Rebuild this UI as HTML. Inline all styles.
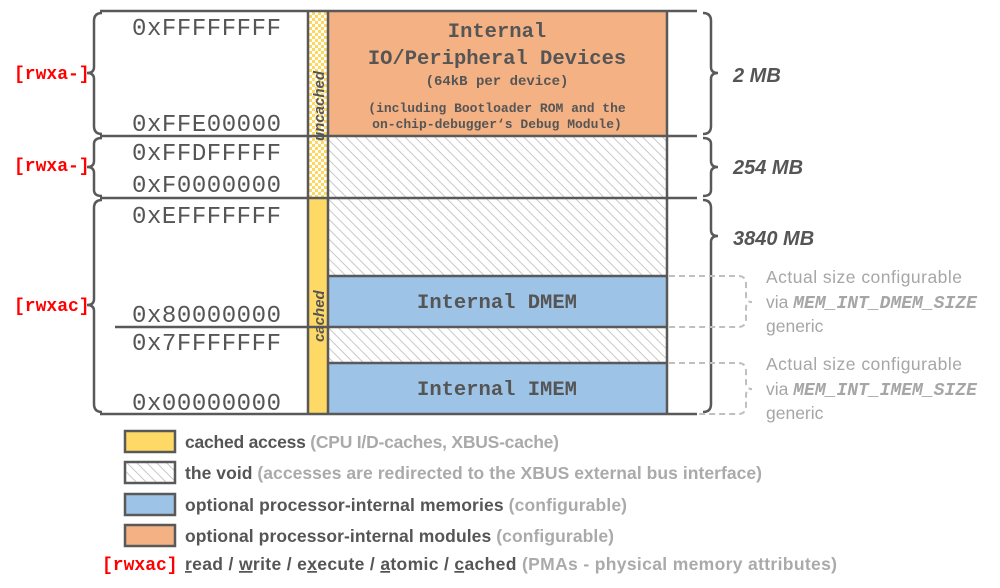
<!DOCTYPE html>
<html><head><meta charset="utf-8"><style>
html,body{margin:0;padding:0;background:#fff;}
svg{display:block}
.m{font-family:"Liberation Mono",monospace;fill:#555;}
.s{font-family:"Liberation Sans",sans-serif;}
</style></head><body>
<svg width="1000" height="588" viewBox="0 0 1000 588" xmlns="http://www.w3.org/2000/svg">
<defs>
<pattern id="h" width="7" height="7" patternUnits="userSpaceOnUse" patternTransform="rotate(-45)">
<rect width="7" height="7" fill="#fff"/><line x1="0" y1="0" x2="0" y2="7" stroke="#c8c8c8" stroke-width="2"/>
</pattern>
<pattern id="c" width="6" height="6" patternUnits="userSpaceOnUse">
<rect width="6" height="6" fill="#fff"/><rect width="3" height="3" fill="#ffd75e"/><rect x="3" y="3" width="3" height="3" fill="#ffd75e"/>
</pattern>
</defs>
<rect x="308" y="11" width="20" height="187" fill="url(#c)"/>
<rect x="308" y="198" width="20" height="216" fill="#ffd966"/>
<rect x="328" y="11" width="339" height="125" fill="#f4b183"/>
<rect x="328" y="136" width="339" height="140" fill="url(#h)"/>
<rect x="328" y="276" width="339" height="51" fill="#9dc3e6"/>
<rect x="328" y="327" width="339" height="36" fill="url(#h)"/>
<rect x="328" y="363" width="339" height="51" fill="#9dc3e6"/>
<g stroke="#595959" stroke-width="2.5" fill="none">
<line x1="308" y1="11" x2="308" y2="414"/><line x1="328" y1="11" x2="328" y2="414"/><line x1="667" y1="11" x2="667" y2="414"/>
<line x1="100" y1="11" x2="697" y2="11"/>
<line x1="100" y1="136" x2="697" y2="136"/>
<line x1="100" y1="198" x2="697" y2="198"/>
<line x1="328" y1="276" x2="667" y2="276"/>
<line x1="328" y1="363" x2="667" y2="363"/>
<line x1="100" y1="414" x2="697" y2="414"/>
<line x1="328" y1="327" x2="115" y2="327"/>
<line x1="328" y1="327" x2="667" y2="327"/>
<path d="M102,13 q-8,0 -8,8 L94,67 q0,6 -7,6 q7,0 7,6 L94,126 q0,8 8,8"/>
<path d="M102,138 q-8,0 -8,6 L94,161 q0,6 -7,6 q7,0 7,6 L94,190 q0,6 8,6"/>
<path d="M102,200 q-8,0 -8,8 L94,299 q0,6 -7,6 q7,0 7,6 L94,404 q0,8 8,8"/>
<path d="M703,13 q8,0 8,8 L711,67 q0,6 7,6 q-7,0 -7,6 L711,126 q0,8 -8,8"/>
<path d="M703,138 q8,0 8,6 L711,161 q0,6 7,6 q-7,0 -7,6 L711,190 q0,6 -8,6"/>
<path d="M703,200 q8,0 8,8 L711,230 q0,6 7,6 q-7,0 -7,6 L711,404 q0,8 -8,8"/>
</g>
<g stroke="#bfbfbf" stroke-width="2" fill="none">
<path d="M669,276 L738,276 q8,0 8,8 L746,296 q0,6 6,6 q-6,0 -6,6 L746,319 q0,8 -8,8 L669,327" stroke-dasharray="6,4"/>
<path d="M669,363 L738,363 q8,0 8,8 L746,383 q0,6 6,6 q-6,0 -6,6 L746,406 q0,8 -8,8 L697,414" stroke-dasharray="6,4"/>
</g>
<g class="m" font-size="24">
<text x="132" y="35" textLength="149">0xFFFFFFFF</text>
<text x="132" y="131" textLength="149">0xFFE00000</text>
<text x="132" y="160" textLength="149">0xFFDFFFFF</text>
<text x="132" y="192" textLength="149">0xF0000000</text>
<text x="132" y="223" textLength="149">0xEFFFFFFF</text>
<text x="132" y="322" textLength="149">0x80000000</text>
<text x="132" y="350" textLength="149">0x7FFFFFFF</text>
<text x="132" y="410" textLength="149">0x00000000</text>
</g>
<g font-family="Liberation Mono,monospace" font-size="18" font-weight="bold" fill="#ff0000">
<text x="14" y="79">[rwxa-]</text>
<text x="14" y="171">[rwxa-]</text>
<text x="14" y="311">[rwxac]</text>
<text x="102" y="570">[rwxac]</text>
</g>
<text class="s" font-size="15" font-style="italic" font-weight="bold" fill="#555" transform="translate(324,141) rotate(-90)">uncached</text>
<text class="s" font-size="15" font-style="italic" font-weight="bold" fill="#555" transform="translate(324,342) rotate(-90)">cached</text>
<g class="m" font-weight="bold" text-anchor="middle">
<text x="497" y="37" font-size="20.5">Internal</text>
<text x="497" y="64" font-size="20.5">IO/Peripheral Devices</text>
<text x="497" y="85" font-size="14">(64kB per device)</text>
<text x="497" y="112" font-size="13">(including Bootloader ROM and the</text>
<text x="497" y="128" font-size="13">on-chip-debugger‘s Debug Module)</text>
<text x="497" y="308" font-size="20.5">Internal DMEM</text>
<text x="497" y="395" font-size="20.5">Internal IMEM</text>
</g>
<g class="s" font-size="20" font-weight="bold" font-style="italic" fill="#555">
<text x="733" y="82">2 MB</text>
<text x="733" y="174">254 MB</text>
<text x="733" y="245">3840 MB</text>
</g>
<g class="s" font-size="17.5" fill="#a6a6a6">
<text x="766" y="283" textLength="196">Actual size configurable</text>
<text x="766" y="308">via <tspan font-family="Liberation Mono,monospace" font-style="italic" font-weight="bold" font-size="18">MEM_INT_DMEM_SIZE</tspan></text>
<text x="766" y="332">generic</text>
<text x="766" y="370" textLength="196">Actual size configurable</text>
<text x="766" y="395">via <tspan font-family="Liberation Mono,monospace" font-style="italic" font-weight="bold" font-size="18">MEM_INT_IMEM_SIZE</tspan></text>
<text x="766" y="419">generic</text>
</g>
<g stroke="#595959" stroke-width="2.5">
<rect x="125" y="431" width="50" height="21" fill="#ffd966"/>
<rect x="125" y="462" width="50" height="21" fill="url(#h)"/>
<rect x="125" y="494" width="50" height="21" fill="#9dc3e6"/>
<rect x="125" y="525" width="50" height="21" fill="#f4b183"/>
</g>
<g class="s" font-size="17.5" font-weight="bold" fill="#555">
<text x="185" y="448" textLength="374">cached access <tspan fill="#aaa">(CPU I/D-caches, XBUS-cache)</tspan></text>
<text x="185" y="479" textLength="577">the void <tspan fill="#aaa">(accesses are redirected to the XBUS external bus interface)</tspan></text>
<text x="185" y="511" textLength="442">optional processor-internal memories <tspan fill="#aaa">(configurable)</tspan></text>
<text x="185" y="542" textLength="429">optional processor-internal modules <tspan fill="#aaa">(configurable)</tspan></text>
<text x="185" y="570" textLength="652"><tspan text-decoration="underline">r</tspan>ead / <tspan text-decoration="underline">w</tspan>rite / e<tspan text-decoration="underline">x</tspan>ecute / <tspan text-decoration="underline">a</tspan>tomic / <tspan text-decoration="underline">c</tspan>ached <tspan fill="#aaa">(PMAs - physical memory attributes)</tspan></text>
</g>
</svg>
</body></html>
